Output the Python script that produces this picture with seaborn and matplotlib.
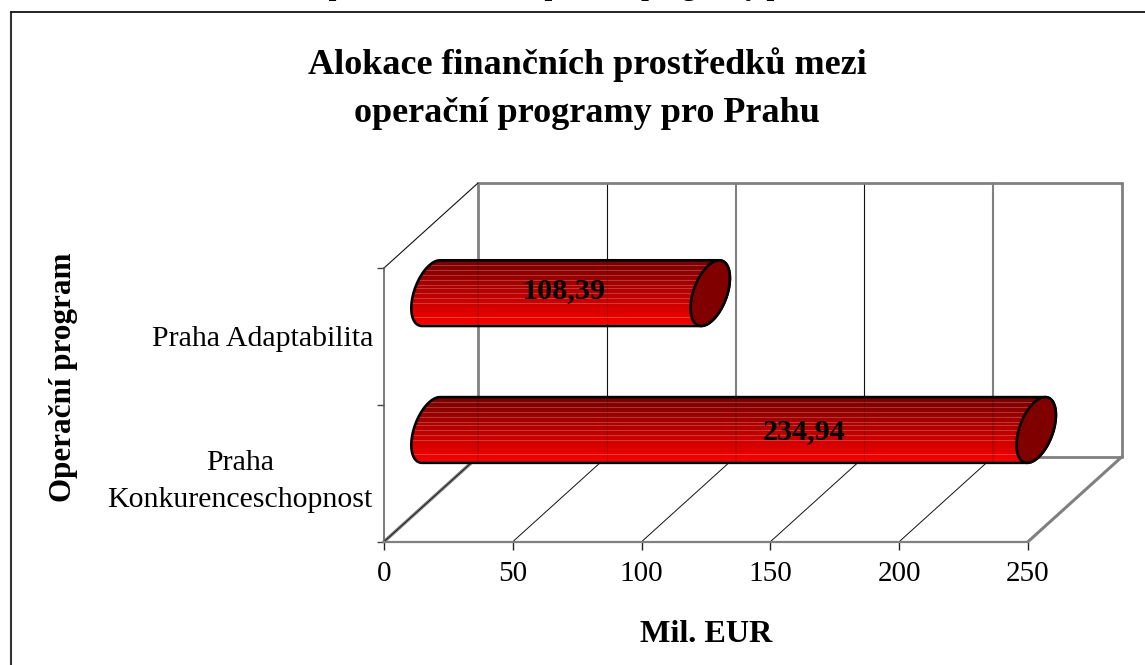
import numpy as np
import pandas as pd
import matplotlib
matplotlib.use("Agg")
import matplotlib.pyplot as plt
from matplotlib.path import Path
from matplotlib.patches import PathPatch
from matplotlib.lines import Line2D
import seaborn as sns

categories = ["Praha Adaptabilita", "Praha\nKonkurenceschopnost"]
values = [108.39, 234.94]
value_labels = ["108,39", "234,94"]
x_ticks = [0, 50, 100, 150, 200, 250]
title = "Alokace finančních prostředků mezi\noperační programy pro Prahu"
cut_caption = "Alokace finančních prostředků mezi operační programy pro Prahu"
x_label = "Mil. EUR"
y_label = "Operační program"

sns.set_theme(style="white")
plt.rcParams["font.family"] = ["Liberation Serif", "DejaVu Serif"]

W, H = 1145, 665
fig = plt.figure(figsize=(W / 100, H / 100), dpi=100, facecolor="white")
L, R, T, B = 384.0, 1028.0, 268.0, 541.7
ax = fig.add_axes([L / W, 1 - B / H, (R - L) / W, (B - T) / H], facecolor="none")

df = pd.DataFrame({"program": categories, "alokace": values})
sns.barplot(data=df, y="program", x="alokace", orient="h", width=0.48,
            color="#ff0000", saturation=1, ax=ax, zorder=4)
ax.set_xlim(0, 250)
ax.set_ylim(1.5, -0.5)

PX = 250 / (R - L)          # data units per pixel
PY = 2 / (B - T)
DX, DY = 94 * PX, 85 * PY   # full depth of the 3D box
MX, MY = 47 * PX, 43.3 * PY # depth of the bars
y0, y1 = 1.5, -0.5

# axis styling
ax.set_xticks(x_ticks)
ax.tick_params(axis="x", which="major", length=6, width=1, color="#222222",
               labelsize=21, pad=8, labelcolor="black", bottom=True)
ax.set_yticks([0, 1])
ax.set_yticklabels(categories, multialignment="center", linespacing=1.55)
ax.set_yticks([-0.5, 0.5, 1.5], minor=True)
ax.tick_params(axis="y", which="major", length=0, labelsize=21.5, pad=8, labelcolor="black", left=False)
ax.tick_params(axis="y", which="minor", length=5, width=1, color="#444444", left=True)
for s in ("top", "right"):
    ax.spines[s].set_visible(False)
ax.spines["left"].set_color("#555555")
ax.spines["left"].set_linewidth(1.1)
ax.spines["bottom"].set_color("#808080")
ax.spines["bottom"].set_linewidth(1.6)

ax.set_xlabel(x_label, fontsize=23.2, fontweight="bold", color="black")
ax.xaxis.set_label_coords((706 - L) / (R - L), (B - 635) / (B - T))
ax.xaxis.label.set_va("center")
ax.set_ylabel(y_label, fontsize=22.4, fontweight="bold", color="black")
ax.yaxis.set_label_coords((64 - L) / (R - L), (B - 377) / (B - T))
ax.yaxis.label.set_va("center")
ax.set_title(title, fontsize=26, fontweight="bold", color="black",
             x=(587 - L) / (R - L), y=(B - 97) / (B - T), va="center", linespacing=1.58)


def line(xs, ys, color, lw, z=1, **kw):
    ax.add_line(Line2D(xs, ys, color=color, lw=lw, zorder=z, clip_on=False, **kw))


# 3D box: back wall, floor, left wall
GRAY, DARK = "#808080", "#111111"
for i, v in enumerate(x_ticks):
    col, lw = (GRAY, 1.5) if i % 2 == 0 or v == x_ticks[-1] else (DARK, 0.8)
    if v == x_ticks[0] or v == x_ticks[-1]:
        lw = 2
    line([v + DX, v + DX], [y0 - DY, y1 - DY], col, lw)
    if v not in (x_ticks[0], x_ticks[-1]):
        line([v, v + DX], [y0, y0 - DY], DARK, 0.7)
line([DX, x_ticks[-1] + DX], [y1 - DY, y1 - DY], GRAY, 2)
line([DX, x_ticks[-1] + DX], [y0 - DY, y0 - DY], GRAY, 2)
line([0, DX], [y0, y0 - DY], GRAY, 2.4)
line([0, DX], [y0, y0 - DY], DARK, 0.6)
line([x_ticks[-1], x_ticks[-1] + DX], [y0, y0 - DY], GRAY, 2.2)
line([0, DX], [y1, y1 - DY], DARK, 0.8)

# cylinders derived from the bars seaborn drew
STRIPE_ROWS = [5, 10, 15, 20, 25, 28, 33, 38, 43, 57, 64]
N = 66
ramp = np.linspace(0.46, 0.98, N)
grad = np.zeros((N, 1, 3))
grad[:, 0, 0] = ramp
for r in STRIPE_ROWS:
    grad[r, 0] = grad[r, 0] * 0.72 + 0.28 * np.array([1, 0.75, 0.75])

A, S = 17.5 * PX, 9 * PX
label_frac = [0.645, 0.694]
label_dy = [-3 * PY, 2 * PY]
for patch, val, txt, frac, ldy in zip(ax.patches, values, value_labels, label_frac, label_dy):
    h = patch.get_height()
    yc = patch.get_y() + h / 2 - MY
    x0 = patch.get_x() + MX
    x1 = x0 + patch.get_width()

    def ell(cx, t):
        return np.c_[cx + A * np.cos(t) + S * np.sin(t), yc - h / 2 * np.sin(t)]

    left = ell(x0, np.linspace(np.pi / 2, 3 * np.pi / 2, 60))
    right = ell(x1, np.linspace(3 * np.pi / 2, 5 * np.pi / 2, 60))
    body_pts = np.vstack([left, right, left[:1]])
    body_path = Path(body_pts, closed=True)
    clip = PathPatch(body_path, transform=ax.transData, facecolor="none", edgecolor="none")
    ax.add_patch(clip)
    clip.set_clip_on(False)

    patch.set_x(x0)
    patch.set_y(yc - h / 2)
    patch.set_clip_box(fig.bbox)
    patch.set_clip_path(clip)

    xl, xr = x0 - A - S, x1 + A + S
    im = ax.imshow(grad, extent=[xl, xr, yc + h / 2, yc - h / 2], aspect="auto",
                   interpolation="nearest", zorder=5)
    im.set_clip_box(fig.bbox)
    im.set_clip_path(clip)

    # wall lines faintly visible through the bar
    for i, v in enumerate(x_ticks):
        g = Line2D([v + DX, v + DX], [yc + h / 2, yc - h / 2], color="#000000",
                   lw=1.2 if i % 2 == 0 else 0.8, alpha=0.16, zorder=6)
        ax.add_line(g)
        g.set_clip_box(fig.bbox)
        g.set_clip_path(clip)

    ax.add_patch(PathPatch(body_path, facecolor="none", edgecolor="black", lw=1.9, zorder=7,
                           clip_on=False))
    cap = ell(x1, np.linspace(0, 2 * np.pi, 120))
    ax.add_patch(PathPatch(Path(cap, closed=True), facecolor="#800000", edgecolor="black",
                           lw=1.9, zorder=8, clip_on=False))
    ax.text((x1 - MX) * frac, yc + ldy, txt, fontsize=21.8, fontweight="bold",
            color="black", ha="center", va="center", zorder=9)

ax.set_xlim(0, 250)
ax.set_ylim(1.5, -0.5)

# outer chart frame (open on the right and bottom)
fig.add_artist(Line2D([11 / W, 11 / W], [0, 1 - 12 / H], color="#333333", lw=1.5))
fig.add_artist(Line2D([11 / W, 1], [1 - 12 / H, 1 - 12 / H], color="#111111", lw=1.3))

# caption line cut off by the top of the picture
fig.text(94 / W, 1 + 4.6 / H, cut_caption, fontsize=20, fontweight="bold", color="black",
         ha="left", va="baseline")

fig.savefig("out.png", dpi=100, facecolor="white")
